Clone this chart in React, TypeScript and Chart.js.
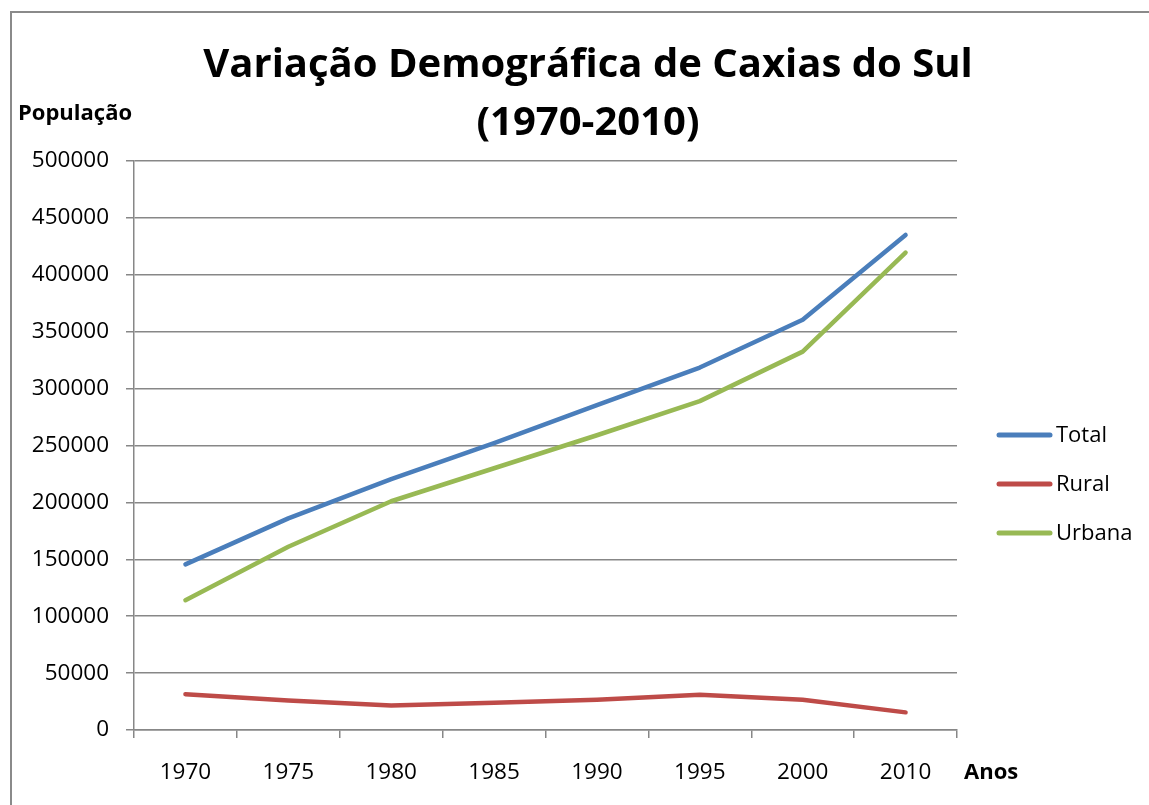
import React, { useEffect, useRef } from "react";
import { Chart, registerables } from "chart.js";

Chart.register(...registerables);

const years = ["1970", "1975", "1980", "1985", "1990", "1995", "2000", "2010"];
const totalValues = [145500, 186000, 220500, 252000, 285500, 318500, 360500, 435000];
const ruralValues = [31500, 26000, 21500, 24000, 26500, 31000, 26500, 15500];
const urbanaValues = [114000, 161000, 201000, 230000, 259000, 289000, 332500, 419500];
const seriesNames = ["Total", "Rural", "Urbana"];
const seriesColors = ["#4A7EBB", "#BE4B48", "#98B954"];
const titleLines = ["Variação Demográfica de Caxias do Sul", "(1970-2010)"];
const yAxisTitle = "População";
const xAxisTitle = "Anos";

const FONT = '"Open Sans", "DejaVu Sans", sans-serif';
const GRID = "#878787";

const textPlugin = {
  id: "textPlugin",
  afterDraw(chart: any) {
    const ctx = chart.ctx;
    ctx.save();
    ctx.fillStyle = "#000";
    ctx.textBaseline = "middle";
    // title
    ctx.textAlign = "center";
    ctx.font = `bold 40px ${FONT}`;
    titleLines.forEach((line, i) => ctx.fillText(line, 588, 66 + i * 58));
    // axis titles
    ctx.textAlign = "left";
    ctx.font = `bold 22px ${FONT}`;
    ctx.fillText(yAxisTitle, 18, 114);
    ctx.fillText(xAxisTitle, 964, 773);
    // legend
    chart.data.datasets.forEach((ds: any, i: number) => {
      const y = 435 + i * 49;
      ctx.strokeStyle = ds.borderColor;
      ctx.lineWidth = 5;
      ctx.lineCap = "round";
      ctx.beginPath();
      ctx.moveTo(999, y);
      ctx.lineTo(1050, y);
      ctx.stroke();
      ctx.font = `22px ${FONT}`;
      ctx.fillText(ds.label, 1056, y + 1);
    });
    ctx.restore();
  },
};

export default function App() {
  const canvasRef = useRef<HTMLCanvasElement | null>(null);

  useEffect(() => {
    const canvas = canvasRef.current;
    if (!canvas) return;
    const chart = new Chart(canvas, {
      type: "line",
      data: {
        labels: years,
        datasets: [totalValues, ruralValues, urbanaValues].map((vals, i) => ({
          label: seriesNames[i],
          data: vals,
          borderColor: seriesColors[i],
          backgroundColor: seriesColors[i],
          borderWidth: 4.5,
          pointRadius: 0,
          pointHoverRadius: 0,
          tension: 0,
          borderCapStyle: "round",
          borderJoinStyle: "round",
          fill: false,
        })),
      },
      options: {
        responsive: false,
        animation: false,
        events: [],
        layout: { padding: { left: 0, top: 161, right: 192, bottom: 0 } },
        plugins: {
          legend: { display: false },
          title: { display: false },
          tooltip: { enabled: false },
        },
        scales: {
          x: {
            type: "category",
            offset: true,
            afterFit: (s: any) => {
              s.height = 75;
            },
            grid: {
              offset: true,
              drawOnChartArea: false,
              drawTicks: true,
              tickLength: 8,
              color: GRID,
              lineWidth: 1.5,
            },
            border: { display: true, color: GRID, width: 1.5 },
            ticks: {
              color: "#000",
              font: { family: FONT, size: 22.5 },
              padding: 21,
              maxRotation: 0,
              autoSkip: false,
            },
          },
          y: {
            min: 0,
            max: 500000,
            afterFit: (s: any) => {
              s.width = 134;
            },
            grid: {
              drawOnChartArea: true,
              drawTicks: true,
              tickLength: 8,
              color: GRID,
              lineWidth: 1.5,
            },
            border: { display: true, color: GRID, width: 1.5 },
            ticks: {
              stepSize: 50000,
              color: "#000",
              font: { family: FONT, size: 22.5 },
              padding: 17,
              callback: (v: any) => String(v),
            },
          },
        },
      },
      plugins: [textPlugin],
    } as any);
    return () => chart.destroy();
  }, []);

  return (
    <div style={{ position: "absolute", left: 0, top: 0, width: 1149, height: 805, background: "#fff" }}>
      <div
        style={{
          position: "absolute",
          left: 10,
          top: 11,
          width: 1200,
          height: 900,
          borderLeft: "2px solid #8a8a8a",
          borderTop: "2px solid #8a8a8a",
          boxSizing: "border-box",
        }}
      />
      <canvas ref={canvasRef} width={1149} height={805} style={{ position: "absolute", left: 0, top: 0 }} />
    </div>
  );
}
